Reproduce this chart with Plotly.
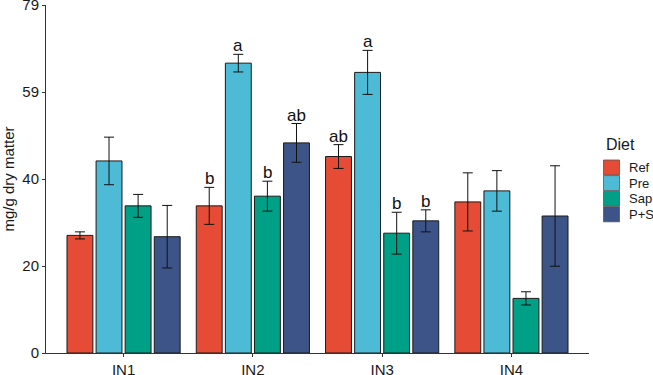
import plotly.graph_objects as go

categories = ["IN1", "IN2", "IN3", "IN4"]
diets = ["Ref", "Pre", "Sap", "P+S"]
colors = ["#E64B35", "#4DBBD5", "#00A087", "#3C5488"]

ref_vals = [26.7, 33.4, 44.6, 34.3]
pre_vals = [43.6, 65.8, 63.7, 36.8]
sap_vals = [33.4, 35.6, 27.2, 12.4]
ps_vals = [26.4, 47.7, 30.0, 31.1]

ref_err = [0.8, 4.2, 2.7, 6.6]
pre_err = [5.4, 2.0, 5.0, 4.6]
sap_err = [2.6, 3.4, 4.75, 1.5]
ps_err = [7.1, 4.4, 2.5, 11.4]

ref_lbl = ["", "b", "ab", ""]
pre_lbl = ["", "a", "a", ""]
sap_lbl = ["", "b", "b", ""]
ps_lbl = ["", "ab", "b", ""]

y_tickvals = [0, 19.75, 39.5, 59.25, 79]
y_ticktext = ["0", "20", "40", "59", "79"]

values = [ref_vals, pre_vals, sap_vals, ps_vals]
errors = [ref_err, pre_err, sap_err, ps_err]
labels = [ref_lbl, pre_lbl, sap_lbl, ps_lbl]

FONT = "Liberation Sans, Arial, sans-serif"
W, H = 653, 375
ML, MR, MT, MB = 46, 64, 5, 22
PW, PH = W - ML - MR, H - MT - MB


def px_x(px):
    return (px - ML) / PW


def px_y(py):
    return (H - MB - py) / PH


fig = go.Figure()
for d, c, v, e in zip(diets, colors, values, errors):
    fig.add_trace(go.Bar(
        x=categories, y=v, name=d, showlegend=False,
        marker=dict(color=c, line=dict(color="#1a1a1a", width=1)),
        error_y=dict(type="data", array=e, visible=True, color="#111111",
                     thickness=1, width=5),
    ))

slot = 0.9 / len(diets)
annotations = []
for j, (v, e, lb) in enumerate(zip(values, errors, labels)):
    for i, cat in enumerate(categories):
        if lb[i]:
            annotations.append(dict(
                x=i + (j - 1.5) * slot, y=v[i] + e[i], xref="x", yref="y",
                text=lb[i], showarrow=False, yanchor="bottom", yshift=-3,
                font=dict(family=FONT, size=17, color="#111111"),
            ))

# legend (drawn manually to match the compact key)
annotations.append(dict(
    x=px_x(604), y=px_y(145), xref="paper", yref="paper", text="Diet",
    showarrow=False, xanchor="left", yanchor="middle",
    font=dict(family=FONT, size=16, color="#1a1a1a"),
))
shapes = []
for k, (d, c) in enumerate(zip(diets, colors)):
    top = 160 + k * 15.6
    shapes.append(dict(
        type="rect", xref="paper", yref="paper",
        x0=px_x(603.5), x1=px_x(619.5), y0=px_y(top + 15), y1=px_y(top),
        fillcolor=c, line=dict(color="#555555", width=0.8),
    ))
    annotations.append(dict(
        x=px_x(627), y=px_y(top + 7.5), xref="paper", yref="paper", text=d,
        showarrow=False, xanchor="left", yanchor="middle",
        font=dict(family=FONT, size=13, color="#1a1a1a"),
    ))

fig.update_layout(
    width=W, height=H,
    margin=dict(l=ML, r=MR, t=MT, b=MB),
    plot_bgcolor="white", paper_bgcolor="white",
    barmode="group", bargap=0.1, bargroupgap=0.11,
    font=dict(family=FONT, size=15, color="#1a1a1a"),
    annotations=annotations, shapes=shapes,
    showlegend=False,
    xaxis=dict(
        range=[-0.6, 3.6], showline=True, linecolor="#333333", linewidth=1,
        ticks="outside", ticklen=3, tickcolor="#333333", automargin=False,
        tickfont=dict(size=15, color="#1a1a1a"), showgrid=False, zeroline=False,
    ),
    yaxis=dict(
        range=[0, 79], tickvals=y_tickvals, ticktext=y_ticktext,
        showline=True, linecolor="#333333", linewidth=1, automargin=False,
        ticks="outside", ticklen=3, tickcolor="#333333", ticklabeloverflow="allow",
        tickfont=dict(size=15, color="#1a1a1a"), showgrid=False, zeroline=False,
        title=dict(text="mg/g dry matter", font=dict(size=15), standoff=6),
    ),
)

fig.write_html(
    "out.html",
    config={"displayModeBar": False},
    post_script="document.body.style.margin='0';document.body.style.overflow='hidden';",
)
